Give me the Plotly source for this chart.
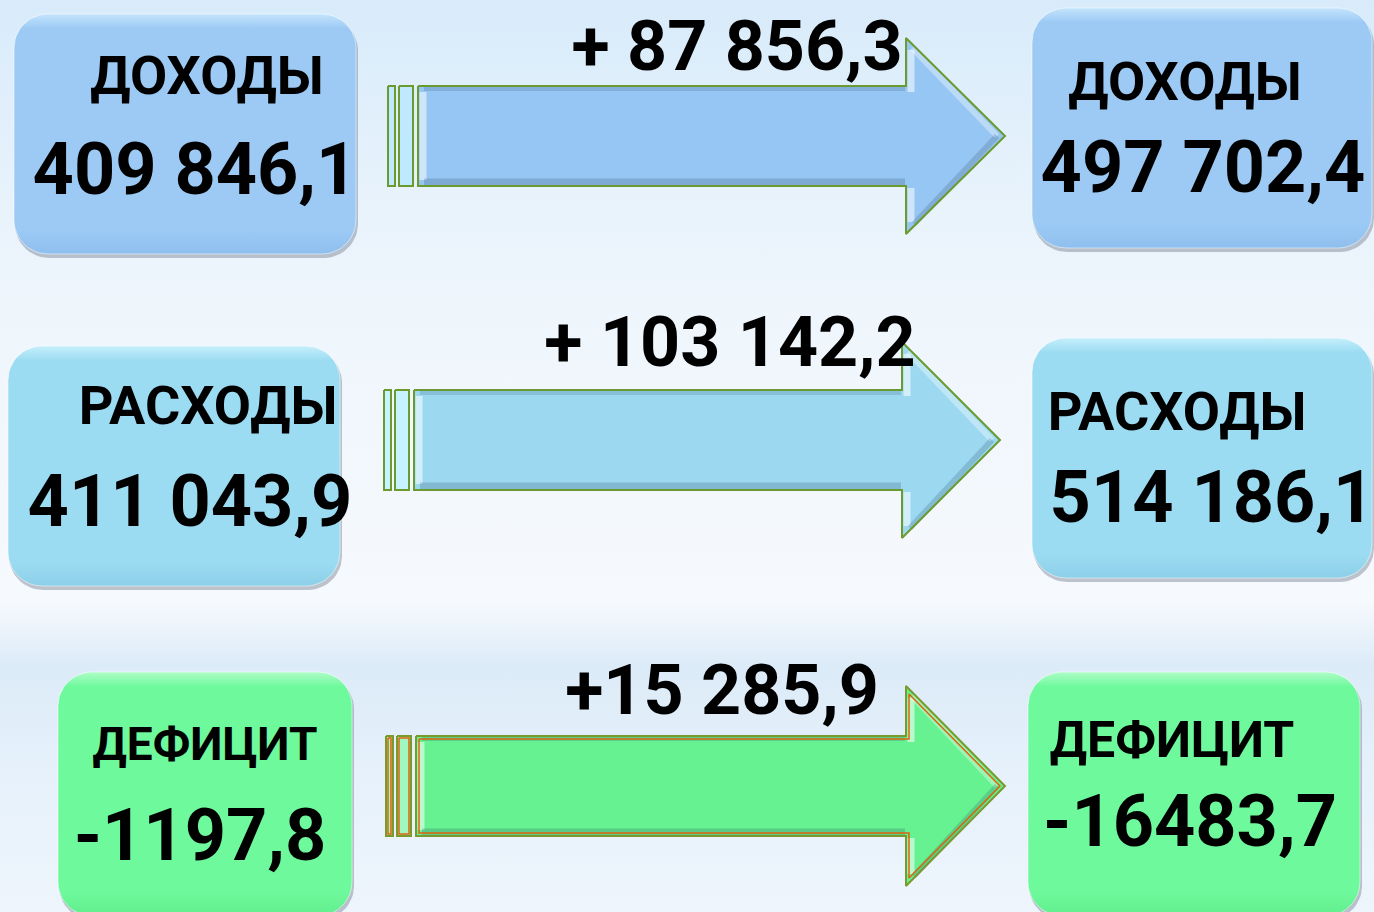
import numpy as np
import plotly.graph_objects as go

# ---- data ----
categories = ["ДОХОДЫ", "РАСХОДЫ", "ДЕФИЦИТ"]
before_values = ["409 846,1", "411 043,9", "-1197,8"]
after_values = ["497 702,4", "514 186,1", "-16483,7"]
change_labels = ["+ 87 856,3", "+ 103 142,2", "+15 285,9"]

# ---- layout / style (pixel geometry) ----
W, H = 1374, 912
rows = [
    dict(lbox=(14, 14, 356, 254), rbox=(1032, 8, 1372, 248),
         arrow=(388, 86, 186, 906, 38, 234, 1005),
         llab=(207, 80, 54), lval=(195, 176), rlab=(1185, 86, 54), rval=(1203, 174), chg=(737, 52),
         box_top="#c4e4fc", box_mid="#9ccaf5", box_bot="#8fbfee",
         afill="#96c6f3", aline="#6b9a2e", ainner=None, stripe="#bfe9ff"),
    dict(lbox=(8, 346, 340, 586), rbox=(1032, 338, 1372, 578),
         arrow=(384, 390, 490, 902, 342, 538, 1000),
         llab=(208, 410, 54), lval=(190, 508), rlab=(1177, 416, 54), rval=(1212, 504), chg=(730, 348),
         box_top="#c6effc", box_mid="#9cdcf2", box_bot="#8ccfe8",
         afill="#9cd9f1", aline="#6b9a2e", ainner=None, stripe="#c6f3ff"),
    dict(lbox=(58, 672, 352, 916), rbox=(1028, 672, 1360, 916),
         arrow=(386, 736, 836, 906, 686, 886, 1005),
         llab=(205, 748, 46), lval=(200, 842), rlab=(1172, 744, 50), rval=(1190, 828), chg=(722, 696),
         box_top="#b0fcc8", box_mid="#6ef99c", box_bot="#62ee8e",
         afill="#66f290", aline="#7a9a2e", ainner="#e0620c", stripe="#9ff8c0"),
]
FONT = "Roboto"


def rounded(x0, y0, x1, y1, r, n=14):
    xs, ys = [], []
    for cx, cy, a0 in [(x1 - r, y0 + r, -90), (x1 - r, y1 - r, 0),
                       (x0 + r, y1 - r, 90), (x0 + r, y0 + r, 180)]:
        t = np.radians(np.linspace(a0, a0 + 90, n))
        xs += list(cx + r * np.cos(t))
        ys += list(cy + r * np.sin(t))
    xs.append(xs[0]); ys.append(ys[0])
    return xs, ys


def line(fig, xs, ys, width, color):
    fig.add_trace(go.Scatter(x=xs, y=ys, mode="lines", line=dict(width=width, color=color),
                             hoverinfo="skip", showlegend=False))


fig = go.Figure()

# background gradient
fig.add_trace(go.Scatter(
    x=[0, W, W, 0, 0], y=[0, 0, H, H, 0], mode="lines", line=dict(width=0),
    fill="toself", hoverinfo="skip", showlegend=False,
    fillgradient=dict(type="vertical", start=0, stop=H,
                      colorscale=[[0, "#d8ebfa"], [0.3, "#edf5fc"], [0.66, "#f6f9fd"],
                                  [0.73, "#dcebf8"], [0.85, "#e6f1fb"], [1, "#eef5fc"]])))

for i, rw in enumerate(rows):
    for key in ("lbox", "rbox"):
        x0, y0, x1, y1 = rw[key]
        sx, sy = rounded(x0 + 1, y0 + 3, x1 + 2, y1 + 4, 34)
        fig.add_trace(go.Scatter(x=sx, y=sy, mode="lines", line=dict(width=0),
                                 fill="toself", fillcolor="rgba(80,95,115,0.35)",
                                 hoverinfo="skip", showlegend=False))
        bx, by = rounded(x0, y0, x1, y1, 34)
        fig.add_trace(go.Scatter(
            x=bx, y=by, mode="lines", line=dict(width=1, color="rgba(255,255,255,0.5)"),
            fill="toself", hoverinfo="skip", showlegend=False,
            fillgradient=dict(type="vertical", start=y0, stop=y1,
                              colorscale=[[0, rw["box_top"]], [0.06, rw["box_mid"]],
                                          [0.9, rw["box_mid"]], [1, rw["box_bot"]]])))

    xs, by0, by1, hb, hy0, hy1, tip = rw["arrow"]
    ty = (hy0 + hy1) / 2
    # stripes
    for sx0, sx1 in [(xs, xs + 7), (xs + 11, xs + 25)]:
        fig.add_trace(go.Scatter(
            x=[sx0, sx1, sx1, sx0, sx0], y=[by0, by0, by1, by1, by0], mode="lines",
            line=dict(width=2, color=rw["aline"]), fill="toself",
            fillcolor=rw["stripe"], hoverinfo="skip", showlegend=False))
        if rw["ainner"]:
            line(fig, [sx0 + 2, sx1 - 2, sx1 - 2, sx0 + 2, sx0 + 2],
                 [by0 + 2, by0 + 2, by1 - 2, by1 - 2, by0 + 2], 1.5, rw["ainner"])
    ax0 = xs + 30
    axs = [ax0, hb, hb, tip, hb, hb, ax0, ax0]
    ays = [by0, by0, hy0, ty, hy1, by1, by1, by0]
    fig.add_trace(go.Scatter(x=axs, y=ays, mode="lines", line=dict(width=0),
                             fill="toself", fillcolor=rw["afill"],
                             hoverinfo="skip", showlegend=False))
    # bevel: highlights and shades
    line(fig, [ax0 + 5, ax0 + 5], [by0 + 6, by1 - 6], 7, "rgba(255,255,255,0.55)")
    line(fig, [hb + 5, hb + 5], [hy0 + 12, by0 + 6], 7, "rgba(255,255,255,0.55)")
    line(fig, [hb + 5, hb + 5], [by1 + 2, hy1 - 12], 7, "rgba(255,255,255,0.55)")
    line(fig, [hb + 6, tip - 8], [hy0 + 10, ty], 6, "rgba(255,255,255,0.35)")
    line(fig, [ax0 + 6, hb - 1], [by1 - 4, by1 - 4], 7, "rgba(40,70,100,0.22)")
    line(fig, [ax0 + 6, hb - 1], [by0 + 3, by0 + 3], 4, "rgba(40,70,100,0.18)")
    line(fig, [hb + 8, tip - 8], [hy1 - 10, ty], 6, "rgba(40,70,100,0.2)")
    # outline
    line(fig, axs, ays, 2, rw["aline"])
    if rw["ainner"]:
        d = 3
        line(fig, [ax0 + d, hb + d, hb + d, tip - 5, hb + d, hb + d, ax0 + d, ax0 + d],
             [by0 + d, by0 + d, hy0 + 8, ty, hy1 - 8, by1 - d, by1 - d, by0 + d], 1.5, rw["ainner"])

    # texts
    def txt(x, y, s, size):
        fig.add_trace(go.Scatter(x=[x], y=[y], mode="text", text=[f"<b>{s}</b>"],
                                 textfont=dict(family=FONT, size=size, color="#000000"),
                                 textposition="middle center", hoverinfo="skip", showlegend=False))
    txt(*rw["llab"][:2], categories[i], rw["llab"][2])
    txt(*rw["rlab"][:2], categories[i], rw["rlab"][2])
    txt(*rw["lval"], before_values[i], 72)
    txt(*rw["rval"], after_values[i], 72)
    txt(*rw["chg"], change_labels[i], 70)

fig.update_layout(
    width=W, height=H, margin=dict(l=0, r=0, t=0, b=0),
    paper_bgcolor="#eef5fc", plot_bgcolor="#eef5fc",
    xaxis=dict(range=[0, W], visible=False, fixedrange=True),
    yaxis=dict(range=[H, 0], visible=False, fixedrange=True),
    showlegend=False,
)
fig.write_html("out.html", config={"displayModeBar": False},
               post_script="document.body.style.margin='0';document.body.style.overflow='hidden';")
